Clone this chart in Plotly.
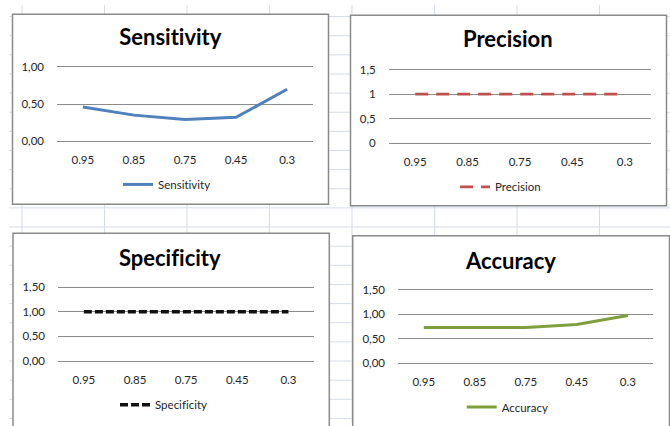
import plotly.graph_objects as go

W, H = 670, 426

# threshold categories on the x axis
thresholds = ["0.95", "0.85", "0.75", "0.45", "0.3"]

# metric values per threshold
sensitivity = [0.46, 0.35, 0.29, 0.32, 0.70]
precision = [1.0, 1.0, 1.0, 1.0, 1.0]
specificity = [1.0, 1.0, 1.0, 1.0, 1.0]
accuracy = [0.73, 0.73, 0.73, 0.79, 0.97]

# y tick labels (comma decimal separator)
ticks_two_dec = [0.0, 0.5, 1.0, 1.5]
ticktext_two_dec = ["0,00", "0,50", "1,00", "1,50"]
ticks_prec = [0.0, 0.5, 1.0, 1.5]
ticktext_prec = ["0", "0,5", "1", "1,5"]

FONT = "Lato"
TXT = "#262626"


def fx(px):
    return px / W


def fy(py):
    return 1 - py / H


# panel layout in pixels
panels = [
    dict(name="Sensitivity", y=sensitivity, color="#4F81BD", dash="solid", width=3,
         box=(12.5, 9.5, 328.5, 203.5), gx=(57.3, 312.7), y0=139.0, ytop=63.3, vtop=1.0,
         tv=ticks_two_dec[:3], tt=ticktext_two_dec[:3],
         title=(170, 32.5), leg=(128, 183.3)),
    dict(name="Precision", y=precision, color="#C0504D", dash="13px,8px", width=2.8,
         box=(350.5, 10.5, 666.5, 205), gx=(389, 651), y0=141.3, ytop=66.0, vtop=1.5,
         tv=ticks_prec, tt=ticktext_prec,
         title=(508, 34), leg=(465, 185.7)),
    dict(name="Specificity", y=specificity, color="#111111", dash="8px,3px", width=3.5,
         box=(13, 233.3, 329.3, 440), gx=(58.3, 314), y0=363.7, ytop=288.3, vtop=1.5,
         tv=ticks_two_dec, tt=ticktext_two_dec,
         title=(170, 257.5), leg=(125, 408.3)),
    dict(name="Accuracy", y=accuracy, color="#7F9F3F", dash="solid", width=3,
         box=(352.7, 235.7, 669.5, 440), gx=(398.3, 653.3), y0=366.0, ytop=290.7, vtop=1.5,
         tv=ticks_two_dec, tt=ticktext_two_dec,
         title=(510, 261), leg=(471.7, 410.7)),
]

fig = go.Figure()
shapes = []
annotations = []
layout_axes = {}

# worksheet cell grid behind the charts
GRID = "#D5DCE7"
row_y = 11.8
while row_y < H:
    shapes.append(dict(type="line", xref="paper", yref="paper", layer="below",
                       x0=fx(9), x1=1, y0=fy(row_y), y1=fy(row_y),
                       line=dict(color=GRID, width=1)))
    row_y += 19.55
col_x = 22.0
while col_x < W:
    shapes.append(dict(type="line", xref="paper", yref="paper", layer="below",
                       x0=fx(col_x), x1=fx(col_x), y0=0, y1=1,
                       line=dict(color=GRID, width=1)))
    col_x += 82.5

for i, p in enumerate(panels, start=1):
    sfx = "" if i == 1 else str(i)
    xa, ya = "x" + sfx, "y" + sfx
    leg = "legend" + sfx

    # chart frame
    bx0, by0, bx1, by1 = p["box"]
    shapes.append(dict(type="rect", xref="paper", yref="paper", layer="below",
                       x0=fx(bx0), x1=fx(bx1), y0=fy(by1), y1=fy(by0),
                       fillcolor="white", line=dict(color="#8A8A8A", width=1.5)))

    # value -> pixel mapping with a small pad so end gridlines are kept
    scale = (p["y0"] - p["ytop"]) / p["vtop"]
    pad = 2.0
    lo = -pad / scale
    hi = p["vtop"] + pad / scale
    dom_bottom = p["y0"] + pad
    dom_top = p["ytop"] - pad

    fig.add_trace(go.Scatter(
        x=thresholds, y=p["y"], mode="lines", name=p["name"],
        line=dict(color=p["color"], width=p["width"], dash=p["dash"]),
        xaxis=xa, yaxis=ya, legend=leg, showlegend=True,
    ))

    layout_axes["xaxis" + sfx] = dict(
        domain=[fx(p["gx"][0]), fx(p["gx"][1])], anchor=ya,
        type="category", range=[-0.5, 4.5], showgrid=False, zeroline=False,
        showline=False, ticks="outside", ticklen=6, tickcolor="rgba(0,0,0,0)",
        tickfont=dict(family=FONT, size=11.5, color=TXT), fixedrange=True,
    )
    layout_axes["yaxis" + sfx] = dict(
        domain=[fy(dom_bottom), fy(dom_top)], anchor=xa,
        range=[lo, hi], tickvals=p["tv"], ticktext=p["tt"],
        showgrid=True, gridcolor="#8C8C8C", gridwidth=1, zeroline=False,
        showline=False, ticks="outside", ticklen=10, tickcolor="rgba(0,0,0,0)",
        tickfont=dict(family=FONT, size=11.5, color=TXT), fixedrange=True,
    )

    annotations.append(dict(
        text="<b>" + p["name"] + "</b>", xref="paper", yref="paper",
        x=fx(p["title"][0]), y=fy(p["title"][1]), xanchor="center", yanchor="middle",
        showarrow=False, font=dict(family=FONT, size=22, color="#000000"),
    ))

    layout_axes[leg] = dict(
        x=fx(p["leg"][0] - 10), y=fy(p["leg"][1]), xanchor="left", yanchor="middle",
        bgcolor="rgba(0,0,0,0)", borderwidth=0,
        font=dict(family=FONT, size=11.5, color=TXT),
    )

fig.update_layout(
    width=W, height=H, margin=dict(l=0, r=0, t=0, b=0),
    paper_bgcolor="white", plot_bgcolor="rgba(0,0,0,0)",
    shapes=shapes, annotations=annotations, **layout_axes,
)

# keep letters such as "ti" as separate glyphs
no_ligatures = (
    "var st = document.createElement('style');"
    "st.textContent = 'svg text { font-variant-ligatures: none; "
    "font-feature-settings: \"liga\" 0, \"clig\" 0; }';"
    "document.head.appendChild(st);"
)

fig.write_html("out.html", config=dict(displayModeBar=False), post_script=no_ligatures)
